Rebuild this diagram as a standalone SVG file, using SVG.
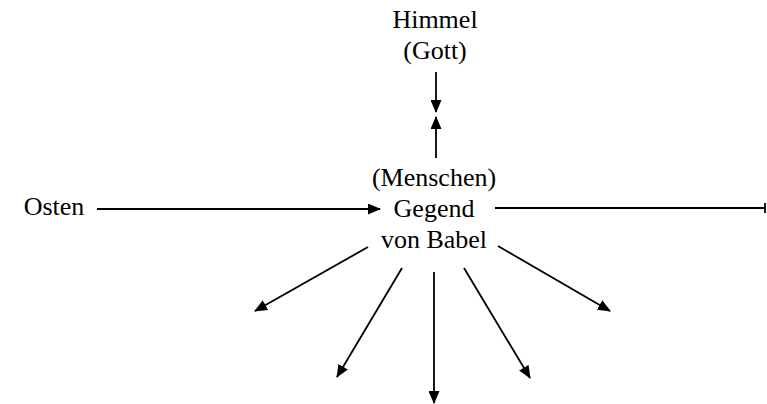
<svg xmlns="http://www.w3.org/2000/svg" width="767" height="404" viewBox="0 0 767 404">
<style>
text{font-family:"Liberation Serif","Times New Roman",serif;font-size:26px;fill:#000;text-anchor:middle}
.c line{stroke:#000;stroke-width:1.8;fill:none}
</style>
<defs>
<marker id="ah" markerUnits="userSpaceOnUse" markerWidth="13" markerHeight="11" viewBox="0 0 13 11" refX="12" refY="5.5" orient="auto">
<path d="M0,0 L13,5.5 L0,11 Z" fill="#000"/>
</marker>
</defs>
<rect width="767" height="404" fill="#fff"/>
<g id="himmel">
<text x="435" y="28">Himmel</text>
<text x="435" y="59">(Gott)</text>
</g>
<g id="babel">
<text x="434" y="186">(Menschen)</text>
<text x="434" y="217">Gegend</text>
<text x="434" y="248">von Babel</text>
</g>
<g id="osten">
<text x="54" y="215">Osten</text>
</g>
<g class="c" id="connectors">
<line x1="436" y1="72" x2="436" y2="112" marker-end="url(#ah)"/>
<line x1="436" y1="158" x2="436" y2="117" marker-end="url(#ah)"/>
<line x1="97" y1="209" x2="380" y2="209" marker-end="url(#ah)"/>
<line x1="495" y1="208" x2="765" y2="208"/>
<line x1="765" y1="203" x2="765" y2="213"/>
<line x1="368" y1="247" x2="255" y2="311" marker-end="url(#ah)"/>
<line x1="402" y1="268" x2="337" y2="377" marker-end="url(#ah)"/>
<line x1="434" y1="272" x2="434" y2="403" marker-end="url(#ah)"/>
<line x1="464" y1="268" x2="530" y2="378" marker-end="url(#ah)"/>
<line x1="498" y1="246" x2="610" y2="311" marker-end="url(#ah)"/>
</g>
</svg>
